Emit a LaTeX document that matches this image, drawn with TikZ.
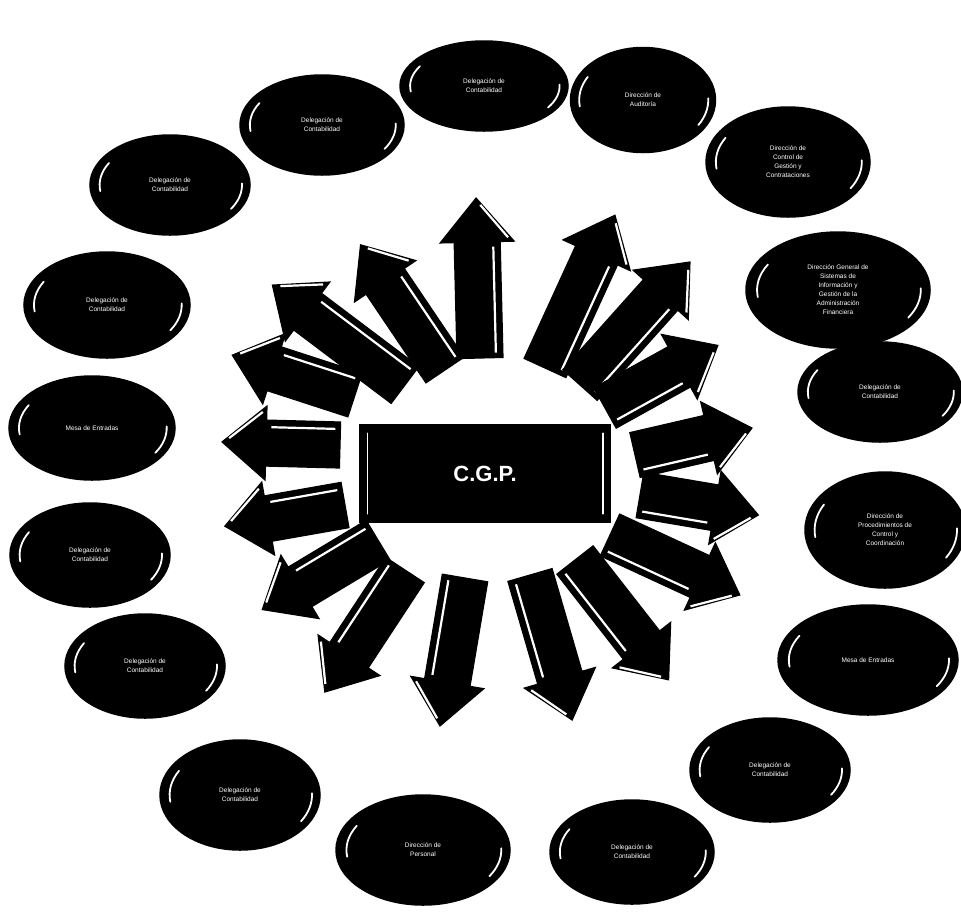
\documentclass[tikz,border=0pt]{standalone}
\usepackage{fontspec}
\setmainfont{Liberation Sans}
\usetikzlibrary{shapes.geometric}
\tikzset{
  oval/.style={ellipse, fill=black, draw=black, line width=1.5pt, inner sep=0pt,
    text=white, font=\fontsize{6.5}{9}\selectfont, align=center},
  shine/.style={draw=white, line width=1.8pt, line cap=round},
  arrowbody/.style={fill=black, draw=black, line width=1.2pt, line join=miter},
  arrowshine/.style={draw=white, line width=2.2pt},
  hub/.style={rectangle, fill=black, draw=black, line width=1.2pt,
    minimum width=250pt, minimum height=97pt, text=white,
    font=\bfseries\fontsize{22}{26}\selectfont}
}
% name, x, y, width, height, text
\newcommand\myoval[6]{%
  \node[oval, minimum width=#4pt, minimum height=#5pt] (#1) at (#2,#3) {#6};
  \draw[shine] (#1.center) ++(150:0.44*#4pt and 0.44*#5pt)
    arc[start angle=150, end angle=188, x radius=0.44*#4pt, y radius=0.44*#5pt];
  \draw[shine] (#1.center) ++(-32:0.45*#4pt and 0.45*#5pt)
    arc[start angle=-32, end angle=2, x radius=0.45*#4pt, y radius=0.45*#5pt];
}
% x, y (base centre), angle, length
\newcommand\bigarrow[4]{%
  \begin{scope}[shift={(#1,#2)}, rotate=#3]
    \filldraw[arrowbody] (0,23) -- ({#4-44},23) -- ({#4-44},37) -- (#4,0)
      -- ({#4-44},-37) -- ({#4-44},-23) -- (0,-23) -- cycle;
    \draw[arrowshine] (5,16) -- ({#4-49},16);
    \draw[arrowshine] ({#4-40},31) -- ({#4-7},4);
  \end{scope}}
\begin{document}
\begin{tikzpicture}[x=1pt, y=-1pt]
\useasboundingbox (0,0) rectangle (961,922);
\fill[white] (0,0) rectangle (961,922);

% ellipses
\myoval{e1}{484}{86}{168}{90}{Delegación de\\Contabilidad}
\myoval{e2}{643}{100}{145}{105}{Dirección de\\Auditoría}
\myoval{e3}{788}{162}{164}{110}{Dirección de\\Control de\\Gestión y\\Contrataciones}
\myoval{e4}{838}{290}{184}{116}{Dirección General de\\Sistemas de\\Información y\\Gestión de la\\Administración\\Financiera}
\myoval{e5}{880}{392}{164}{100}{Delegación de\\Contabilidad}
\myoval{e6}{885}{530}{160}{116}{Dirección de\\Procedimientos de\\Control y\\Coordinación}
\myoval{e7}{868}{660}{180}{110}{Mesa de Entradas}
\myoval{e8}{770}{770}{160}{104}{Delegación de\\Contabilidad}
\myoval{e9}{632}{852}{164}{104}{Delegación de\\Contabilidad}
\myoval{e10}{423}{850}{174}{110}{Dirección de\\Personal}
\myoval{e11}{240}{795}{160}{110}{Delegación de\\Contabilidad}
\myoval{e12}{145}{666}{160}{104}{Delegación de\\Contabilidad}
\myoval{e13}{90}{555}{160}{104}{Delegación de\\Contabilidad}
\myoval{e14}{92}{428}{166}{104}{Mesa de Entradas}
\myoval{e15}{107}{305}{166}{106}{Delegación de\\Contabilidad}
\myoval{e16}{170}{185}{160}{100}{Delegación de\\Contabilidad}
\myoval{e17}{322}{125}{164}{100}{Delegación de\\Contabilidad}

% arrows radiating from the centre
\bigarrow{480}{358}{91.4}{160}
\bigarrow{545}{368}{65.4}{168}
\bigarrow{580}{385}{48.2}{165}
\bigarrow{605}{408}{29}{129}
\bigarrow{635}{455}{13}{120}
\bigarrow{640}{495}{-9.6}{120}
\bigarrow{610}{535}{-24.8}{143}
\bigarrow{575}{560}{-52}{152}
\bigarrow{530}{575}{-73.8}{151}
\bigarrow{465}{578}{-99.6}{150}
\bigarrow{405}{570}{-123.3}{146}
\bigarrow{378}{540}{-149}{135}
\bigarrow{345}{505}{-170}{122}
\bigarrow{340}{445}{178.5}{118}
\bigarrow{355}{395}{162}{129}
\bigarrow{405}{385}{143}{166}
\bigarrow{445}{370}{124}{151}

% central box
\node[hub] (cgp) at (485,473.5) {C.G.P.};
\draw[shine] ([xshift=8pt,yshift=-9pt]cgp.north west) -- ([xshift=8pt,yshift=9pt]cgp.south west);
\draw[shine] ([xshift=-8pt,yshift=-9pt]cgp.north east) -- ([xshift=-8pt,yshift=9pt]cgp.south east);
\end{tikzpicture}
\end{document}
